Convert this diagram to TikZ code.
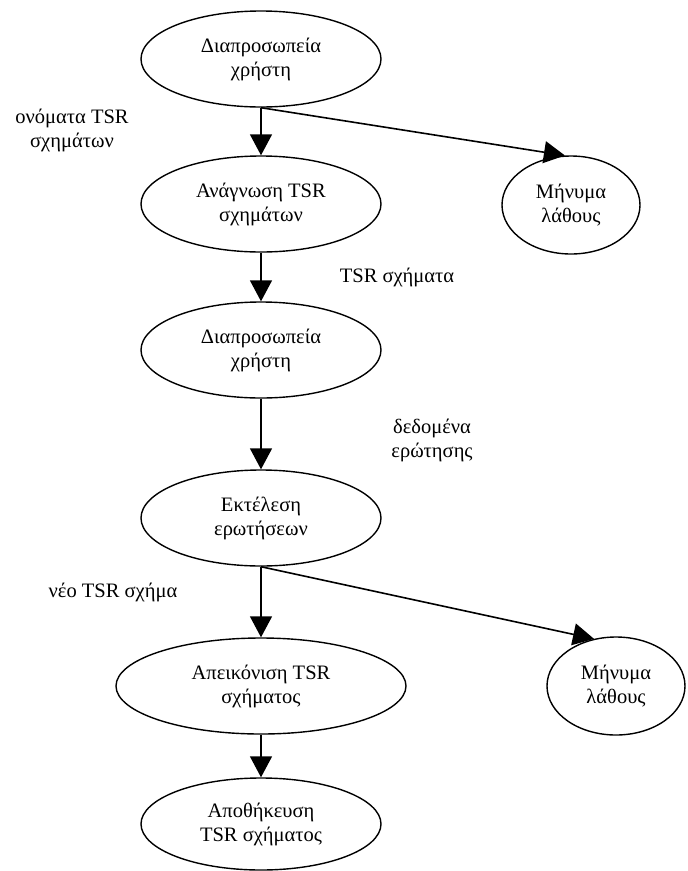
\documentclass[tikz,border=0pt]{standalone}
\usepackage{fontspec}
\setmainfont{Liberation Serif}
\newfontfamily\tnrfont{Liberation Serif}[Script=Greek]
\usetikzlibrary{shapes.geometric,arrows.meta}
\begin{document}
\begin{tikzpicture}[x=1pt,y=-1pt,
  every node/.style={font=\tnrfont\fontsize{20.5}{24}\selectfont, align=center},
  proc/.style={ellipse, draw, line width=1.4pt, inner sep=0pt, minimum width=240pt, minimum height=96pt},
  errbox/.style={ellipse, draw, line width=1.4pt, inner sep=0pt, minimum width=138pt, minimum height=98pt},
  flow/.style={line width=1.6pt, -{Triangle[length=21pt,width=22pt]}},
  lbl/.style={inner sep=0pt}]
\useasboundingbox (0,0) rectangle (688,871);
\node[proc] (n1) at (261,59) {Διαπροσωπεία\\χρήστη};
\node[proc] (n2) at (261,204) {Ανάγνωση TSR\\σχημάτων};
\node[proc] (n3) at (261,350) {Διαπροσωπεία\\χρήστη};
\node[proc] (n4) at (261,518) {Εκτέλεση\\ερωτήσεων};
\node[proc, minimum width=290pt] (n5) at (261,686) {Απεικόνιση TSR\\σχήματος};
\node[proc, minimum height=92pt] (n6) at (261,824) {Αποθήκευση\\TSR σχήματος};
\node[errbox] (e1) at (571,205) {Μήνυμα\\λάθους};
\node[errbox] (e2) at (616,686) {Μήνυμα\\λάθους};
\node[lbl] (l1) at (72,130) {ονόματα TSR\\σχημάτων};
\node[lbl] (l2) at (397,277) {TSR σχήματα};
\node[lbl] (l3) at (432,440) {δεδομένα\\ερώτησης};
\node[lbl] (l4) at (113,592) {νέο TSR σχήμα};
\draw[flow] (n1.south) -- (n2.north);
\draw[flow] (n1.south) -- (e1.97);
\draw[flow] (n2.south) -- (n3.north);
\draw[flow] (n3.south) -- (n4.north);
\draw[flow] (n4.south) -- (n5.north);
\draw[flow] (n4.south) -- (e2.115);
\draw[flow] (n5.south) -- (n6.north);
\end{tikzpicture}
\end{document}
